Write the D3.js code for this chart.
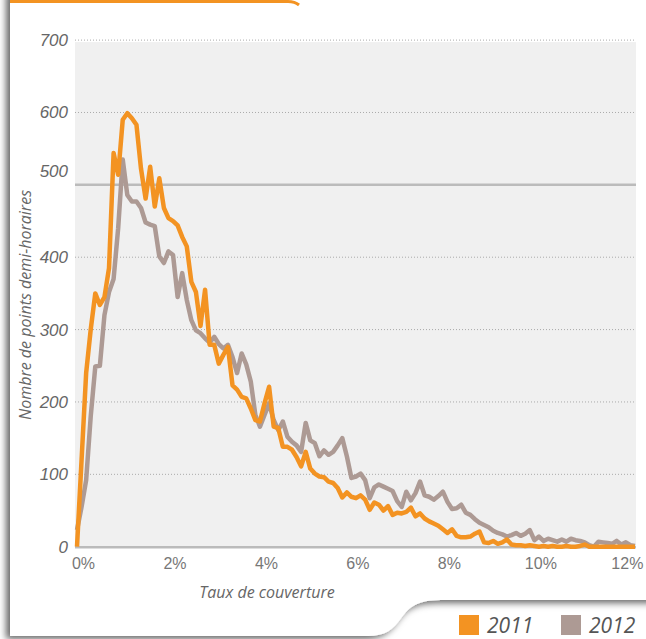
<!DOCTYPE html>
<html>
  <head>
    <meta charset="utf-8">
    <style>
      body { margin: 0; background: #fff; }
      svg { display: block; font-family: "Open Sans", "Noto Sans", sans-serif; }
    </style>
    <script src="https://d3js.org/d3.v7.min.js"></script>
    <title>Taux de couverture</title>
  </head>
  <body>
    <div id="chart"></div>
    <script>
    // ------------------------------ data
    // one point every 0.1 % of "taux de couverture", from 0 % to 12.2 %
    var STEP = 0.1
    var YEARS = ["2011", "2012"]
    var COLORS = ["#f39322", "#ad9a94"]
    var Y_TICKS = [0, 100, 200, 300, 400, 500, 600, 700]
    var X_TICKS = [0, 2, 4, 6, 8, 10, 12]

    var values2011 = [
      0, 120, 240, 300, 350, 334, 345, 385, 544, 514,
      590, 599, 592, 583, 522, 481, 525, 470, 509, 468,
      454, 450, 444, 428, 415, 366, 352, 305, 355, 279,
      279, 253, 265, 276, 223, 217, 207, 205, 191, 175,
      173, 198, 221, 166, 164, 138, 138, 134, 124, 111,
      131, 108, 101, 97, 96, 90, 88, 81, 68, 75,
      69, 67, 71, 65, 51, 61, 58, 50, 56, 44,
      47, 46, 48, 54, 42, 46, 39, 35, 32, 29,
      24, 19, 24, 15, 13, 13, 14, 18, 21, 6,
      5, 8, 4, 6, 10, 3, 2, 2, 1, 2,
      1, 0, 1, 0, 1, 0, 0, 1, 0, 0,
      1, 3, 0, 0, 0, 0, 0, 0, 0, 0,
      0, 0, 0
    ]
    var values2012 = [
      23, 55, 92, 180, 249, 250, 320, 352, 370, 440,
      535, 486, 477, 477, 468, 448, 445, 443, 401, 392,
      408, 403, 345, 378, 341, 313, 299, 295, 288, 282,
      290, 280, 274, 279, 262, 240, 267, 252, 228, 182,
      166, 182, 198, 175, 161, 173, 152, 145, 140, 131,
      171, 147, 143, 125, 133, 127, 131, 140, 150, 125,
      95, 97, 101, 92, 67, 82, 86, 83, 80, 77,
      63, 55, 76, 64, 74, 90, 71, 69, 65, 70,
      76, 62, 52, 53, 58, 47, 44, 38, 33, 30,
      27, 22, 19, 17, 14, 16, 19, 15, 18, 23,
      9, 14, 8, 11, 9, 7, 10, 7, 11, 9,
      8, 6, 2, 0, 7, 6, 5, 4, 8, 3,
      6, 2, 1
    ]
    var SERIES = [values2011, values2012]

    // ------------------------------ page
    var W = 646, H = 639
    var svg = d3.select("#chart").append("svg")
      .attr("width", W)
      .attr("height", H)

    var defs = svg.append("defs")
    var sh = defs.append("filter").attr("id", "shadow")
      .attr("x", "-10%").attr("y", "-10%").attr("width", "120%").attr("height", "120%")
    sh.append("feDropShadow")
      .attr("dx", -4).attr("dy", 3)
      .attr("stdDeviation", 3.5)
      .attr("flood-color", "#000")
      .attr("flood-opacity", 0.6)

    // card with the step at the bottom right (legend sits below it)
    svg.append("path")
      .attr("d", "M10,-10 H660 V600 H445 C420,600 412,604 402,617 C393,630 385,636 368,636 H10 Z")
      .attr("fill", "#fff")
      .attr("filter", "url(#shadow)")

    // orange rule at the top
    svg.append("path")
      .attr("d", "M10,1.5 H288 C293,1.5 296,2.5 299,5")
      .attr("fill", "none")
      .attr("stroke", "#f39322")
      .attr("stroke-width", 3)

    // ------------------------------ plot
    var x = d3.scaleLinear().domain([0, 12.2]).range([77, 635])
    var y = d3.scaleLinear().domain([0, 700]).range([546.7, 40.1])
    var left = 75, right = 636

    svg.append("rect")
      .attr("x", left).attr("y", y(700) + 2)
      .attr("width", right - left).attr("height", y(0) - y(700) - 2)
      .attr("fill", "#f0f0f0")

    // grid
    var yAxis = svg.append("g")
      .attr("transform", "translate(" + left + ",0)")
      .call(d3.axisLeft(y).tickValues(Y_TICKS).tickSize(0).tickPadding(7))
    yAxis.select(".domain").remove()
    yAxis.selectAll(".tick text")
      .attr("font-size", 17)
      .attr("font-style", "italic")
      .attr("fill", "#666")
      .attr("dy", function(d) { return d == 500 ? "-0.5em" : "0.32em" })

    svg.selectAll("gridLine")
      .data(Y_TICKS.filter(function(d) { return d > 0 }))
      .enter().append("line")
      .attr("x1", left).attr("x2", right)
      .attr("y1", function(d) { return y(d) }).attr("y2", function(d) { return y(d) })
      .attr("stroke", function(d) { return d == 500 ? "#bbb" : "#aaa" })
      .attr("stroke-width", function(d) { return d == 500 ? 2.5 : 1 })
      .attr("stroke-dasharray", function(d) { return d == 500 ? null : "1,2" })

    // x axis
    svg.append("line")
      .attr("x1", left).attr("x2", right)
      .attr("y1", y(0) + 0.5).attr("y2", y(0) + 0.5)
      .attr("stroke", "#bbb")
      .attr("stroke-width", 2.5)

    var xAxis = svg.append("g")
      .attr("transform", "translate(0," + y(0) + ")")
      .call(d3.axisBottom(x).tickValues(X_TICKS).tickSize(0).tickPadding(11)
        .tickFormat(function(d) { return d + "%" }))
    xAxis.select(".domain").remove()
    xAxis.selectAll(".tick text")
      .attr("font-size", 16)
      .attr("fill", "#777")
      .attr("dx", function(d) { return d == 12 ? 1 : 6 })

    // axis titles
    svg.append("text")
      .attr("transform", "translate(31,305) rotate(-90)")
      .attr("text-anchor", "middle")
      .attr("font-size", 16)
      .attr("font-style", "italic")
      .attr("fill", "#666")
      .text("Nombre de points demi-horaires")

    svg.append("text")
      .attr("x", 267).attr("y", 598)
      .attr("text-anchor", "middle")
      .attr("font-size", 16)
      .attr("font-style", "italic")
      .attr("fill", "#666")
      .text("Taux de couverture")

    // lines, 2012 below 2011
    var line = d3.line()
      .x(function(d, i) { return x(i * STEP) })
      .y(function(d) { return y(d) })

    svg.selectAll("myPath")
      .data([1, 0])
      .enter().append("path")
      .attr("d", function(k) { return line(SERIES[k]) })
      .attr("fill", "none")
      .attr("stroke", function(k) { return COLORS[k] })
      .attr("stroke-width", 4.5)
      .attr("stroke-linejoin", "round")

    // legend
    var legend = svg.selectAll("legendItem")
      .data(YEARS)
      .enter().append("g")
      .attr("transform", function(d, i) { return "translate(" + (459 + i * 102) + ",615)" })
    legend.append("rect")
      .attr("width", 20).attr("height", 20)
      .attr("fill", function(d, i) { return COLORS[i] })
    legend.append("text")
      .attr("x", 28).attr("y", 18)
      .attr("font-size", 21)
      .attr("font-style", "italic")
      .attr("fill", "#555")
      .text(function(d) { return d })
    </script>
  </body>
</html>
